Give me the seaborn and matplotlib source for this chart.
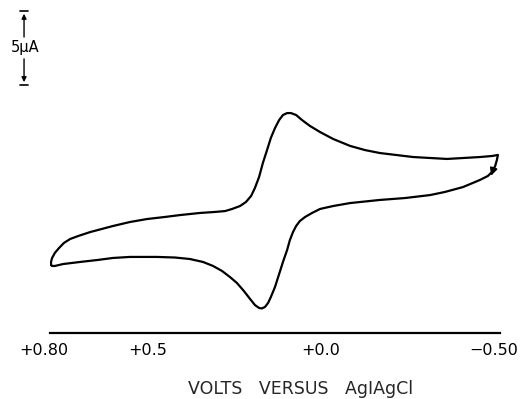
import numpy as np
import pandas as pd
import seaborn as sns
import matplotlib.pyplot as plt
from matplotlib.transforms import ScaledTranslation

# forward scan (left tip -> switching point), volts vs current (uA above baseline)
fwd_volts = [0.797, 0.797, 0.794, 0.786, 0.774, 0.760, 0.742, 0.719, 0.684, 0.618,
             0.569, 0.520, 0.468, 0.424, 0.367, 0.323, 0.294, 0.274, 0.251, 0.234,
             0.219, 0.208, 0.196, 0.185, 0.173, 0.162, 0.150, 0.138, 0.127, 0.115,
             0.104, 0.089, 0.072, 0.049, 0.020, -0.018, -0.067, -0.110, -0.153, -0.249,
             -0.347, -0.442, -0.477, -0.494]
fwd_current = [4.59, 4.80, 5.07, 5.41, 5.74, 6.08, 6.35, 6.55, 6.82, 7.23,
               7.50, 7.70, 7.84, 7.97, 8.11, 8.18, 8.24, 8.38, 8.58, 8.85,
               9.26, 9.80, 10.54, 11.49, 12.36, 13.18, 13.85, 14.39, 14.73, 14.86,
               14.86, 14.73, 14.39, 13.99, 13.58, 13.11, 12.64, 12.36, 12.16, 11.89,
               11.76, 11.89, 11.96, 12.03]

# reverse scan (switching point -> left tip)
rev_volts = [-0.491, -0.486, -0.477, -0.465, -0.442, -0.393, -0.341, -0.298, -0.226, -0.153,
             -0.067, -0.018, 0.020, 0.043, 0.063, 0.078, 0.089, 0.098, 0.107, 0.115,
             0.127, 0.138, 0.150, 0.162, 0.170, 0.179, 0.188, 0.196, 0.208, 0.222,
             0.240, 0.260, 0.280, 0.303, 0.329, 0.358, 0.396, 0.439, 0.491, 0.540,
             0.569, 0.618, 0.664, 0.713, 0.762, 0.786, 0.794, 0.797]
rev_current = [11.69, 11.28, 10.88, 10.61, 10.34, 9.86, 9.53, 9.32, 9.12, 8.99,
               8.78, 8.58, 8.38, 8.11, 7.84, 7.57, 7.23, 6.82, 6.28, 5.61,
               4.80, 3.99, 3.11, 2.43, 2.03, 1.76, 1.66, 1.69, 1.89, 2.30,
               2.84, 3.38, 3.78, 4.19, 4.53, 4.80, 5.00, 5.10, 5.14, 5.14,
               5.14, 5.07, 4.93, 4.80, 4.66, 4.53, 4.53, 4.59]

tick_volts = [0.8, 0.5, 0.0, -0.5]
tick_labels = ["+0.80", "+0.5", "+0.0", "\u22120.50"]
minor_volts = np.round(np.arange(-0.5, 0.81, 0.1), 2)

cv = pd.DataFrame({
    "volts": fwd_volts + rev_volts,
    "current": fwd_current + rev_current,
})

sns.set_style("white", {"text.color": "black", "axes.edgecolor": "black",
                        "xtick.color": "black"})
plt.rcParams["font.family"] = ["DejaVu Sans"]

fig = plt.figure(figsize=(5.21, 3.99), dpi=100)
ax = fig.add_axes([50 / 521, 66 / 399, 450 / 521, 333 / 399])

sns.lineplot(data=cv, x="volts", y="current", sort=False, estimator=None,
             color="black", linewidth=1.6, ax=ax)
for ln in ax.get_lines():
    ln.set_solid_joinstyle("round")
    ln.set_solid_capstyle("round")

# direction arrow at the switching potential
ax.annotate("", xy=(-0.472, 10.45), xytext=(-0.484, 11.3),
            arrowprops=dict(arrowstyle="-|>", color="black", lw=1.2,
                            mutation_scale=11))

ax.set_xlim(0.8, -0.5)
ax.set_ylim(0, 22.5)
for s in ["top", "right", "left"]:
    ax.spines[s].set_visible(False)
ax.spines["bottom"].set_linewidth(1.6)

ax.set_xticks(tick_volts)
ax.set_xticklabels(tick_labels, fontsize=11.5)
ax.set_xticks(minor_volts, minor=True)
ax.set_yticks([])
ax.tick_params(axis="x", which="major", direction="in", length=7, width=0.9, pad=7)
ax.tick_params(axis="x", which="minor", direction="in", length=2.5, width=0.9)
ax.xaxis.get_major_ticks()[-1].tick1line.set_markersize(10)
ax.xaxis.get_major_ticks()[0].tick1line.set_markersize(4)
offset = ScaledTranslation(-6 / 100, 0, fig.dpi_scale_trans)
for lab in ax.get_xticklabels():
    lab.set_transform(lab.get_transform() + offset)

ax.set_xlabel("VOLTS   VERSUS   AgIAgCl", fontsize=12.5, va="center")
ax.xaxis.set_label_coords((301 - 50) / 450, -(389 - 333) / 333)
ax.set_ylabel("")

# 5 uA scale bar
bar_x = 0.875
bar_top, bar_bot = 21.76, 16.76
bar_mid = (bar_top + bar_bot) / 2
for y0, y1 in [(bar_mid + 0.55, bar_top), (bar_mid - 0.55, bar_bot)]:
    ax.annotate("", xy=(bar_x, y1), xytext=(bar_x, y0),
                arrowprops=dict(arrowstyle="-|>", color="black", lw=1.0,
                                mutation_scale=7),
                annotation_clip=False)
for y in [bar_top, bar_bot]:
    ax.plot([bar_x + 0.012, bar_x - 0.012], [y, y], color="black", lw=1.2,
            clip_on=False)
ax.text(bar_x - 0.003, bar_mid, "5\u03bcA", fontsize=10.5, ha="center",
        va="center", clip_on=False,
        bbox=dict(facecolor="white", edgecolor="none", pad=0.5))

fig.savefig("out.png", dpi=100)
